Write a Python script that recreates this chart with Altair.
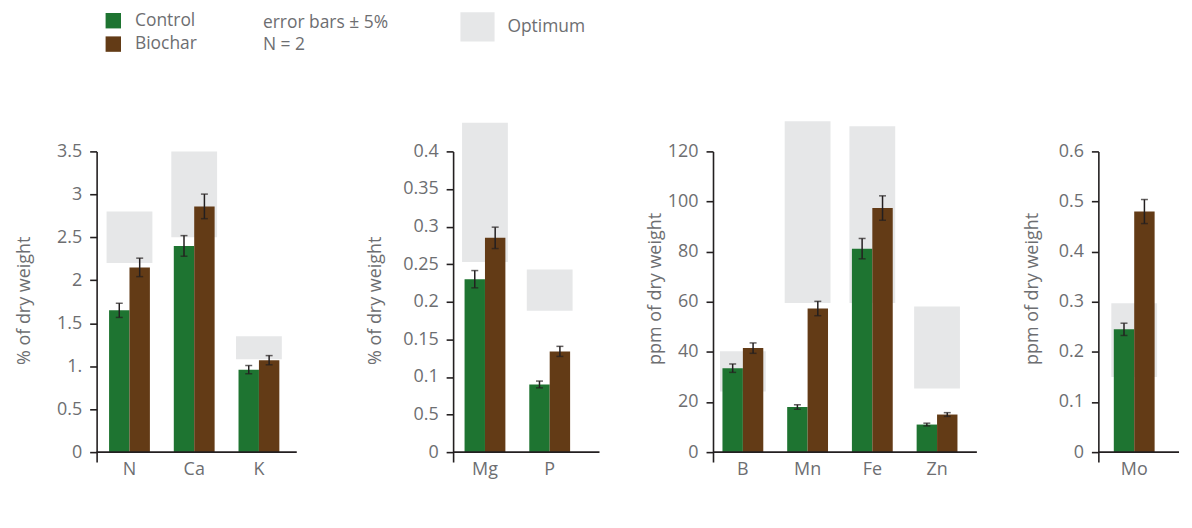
import json
import pandas as pd
import altair as alt

FONT = "Open Sans"
GREY = "#6d6e71"
DARK = "#231f20"
TREATMENTS = ["Control", "Biochar"]
TREAT_COLORS = ["#1e7431", "#633b16"]
OPT_NAME = "Optimum"
OPT_COLOR = "#e6e7e8"
ERR = 0.05
NOTES = ["error bars \u00b1 5%", "N = 2"]

# ---- panel 1: % of dry weight
p1_elements = ["N", "Ca", "K"]
p1_control = [1.65, 2.40, 0.96]
p1_biochar = [2.15, 2.86, 1.07]
p1_opt_low = [2.2, 2.5, 1.08]
p1_opt_high = [2.8, 3.5, 1.35]
p1_ticks = [0, 0.5, 1, 1.5, 2, 2.5, 3, 3.5]
p1_tick_labels = ["0", "0.5", "1.", "1.5", "2", "2.5", "3", "3.5"]

# ---- panel 2: % of dry weight
p2_elements = ["Mg", "P"]
p2_control = [0.23, 0.09]
p2_biochar = [0.285, 0.134]
p2_opt_low = [0.253, 0.188]
p2_opt_high = [0.438, 0.243]
p2_ticks = [0, 0.05, 0.1, 0.15, 0.2, 0.25, 0.3, 0.35, 0.4]
p2_tick_labels = ["0", "0.5", "0.1", "0.15", "0.2", "0.25", "0.3", "0.35", "0.4"]

# ---- panel 3: ppm of dry weight
p3_elements = ["B", "Mn", "Fe", "Zn"]
p3_control = [33.5, 18.0, 81.2, 11.0]
p3_biochar = [41.5, 57.3, 97.4, 15.0]
p3_opt_low = [24.2, 59.5, 59.5, 25.4]
p3_opt_high = [40.3, 132.0, 130.0, 58.1]
p3_ticks = [0, 20, 40, 60, 80, 100, 120]
p3_tick_labels = ["0", "20", "40", "60", "80", "100", "120"]

# ---- panel 4: ppm of dry weight
p4_elements = ["Mo"]
p4_control = [0.245]
p4_biochar = [0.48]
p4_opt_low = [0.15]
p4_opt_high = [0.297]
p4_ticks = [0, 0.1, 0.2, 0.3, 0.4, 0.5, 0.6]
p4_tick_labels = ["0", "0.1", "0.2", "0.3", "0.4", "0.5", "0.6"]

# ---- layout constants (pixels)
PLOT_H = 312
ZERO_GAP = 10          # y axis line runs this far below zero
STEP = 65
BAND = 41
SPACING = 114
FS = 18
TOP_PAD = 3

color_legend = alt.Legend(
    orient="none", legendX=8, legendY=-143 + TOP_PAD, title=None,
    symbolType="square", symbolSize=240, symbolStrokeWidth=0,
    labelFontSize=17.5, labelColor=GREY, labelFont=FONT,
    rowPadding=4.5, labelOffset=13, padding=0,
)
fill_legend = alt.Legend(
    orient="none", legendX=367.5, legendY=-143 + TOP_PAD, title=None,
    symbolType="M-1.17,-1H1.17V1H-1.17Z", symbolSize=858, symbolStrokeWidth=0,
    labelFontSize=17.5, labelColor=GREY, labelFont=FONT,
    labelOffset=15, padding=0,
)


def panel(elements, control, biochar, opt_low, opt_high, ticks, tick_labels,
          title, width, axis_len, first_center, title_x, notes=False):
    n = len(elements)
    top = ticks[-1]
    ymin = -top * ZERO_GAP / (PLOT_H - ZERO_GAP)
    pi = 1 - BAND / STEP
    po = (width / STEP - n + pi) / 2
    align = (first_center - BAND / 2) / (width - STEP * (n - pi))

    bars = pd.DataFrame({
        "element": elements * 2,
        "treatment": [TREATMENTS[0]] * n + [TREATMENTS[1]] * n,
        "value": list(control) + list(biochar),
    })
    opt = pd.DataFrame({
        "element": elements, "lo": opt_low, "hi": opt_high,
        "kind": [OPT_NAME] * n,
    })

    xenc = alt.X("element:N", sort=elements,
                 scale=alt.Scale(paddingInner=pi, paddingOuter=po, align=align),
                 axis=alt.Axis(title=None, domain=False, ticks=False, labelAngle=0,
                               labelPadding=8, offset=-ZERO_GAP,
                               labelFontSize=FS, labelColor=GREY, labelFont=FONT))
    yscale = alt.Scale(domain=[ymin, top], nice=False, zero=False)
    label_expr = f"{json.dumps(tick_labels)}[indexof({json.dumps(ticks)}, datum.value)]"
    yaxis = alt.Axis(values=ticks, labelExpr=label_expr, grid=False, labelOverlap=False,
                     tickSize=7, tickWidth=1.6, tickColor=DARK,
                     domainColor=DARK, domainWidth=1.6,
                     labelFontSize=FS, labelColor=GREY, labelFont=FONT, labelPadding=8,
                     title=title, titleFontSize=FS, titleFontWeight="normal",
                     titleColor=GREY, titleFont=FONT, titleX=title_x, titleY=214,
                     titleAlign="left", titleBaseline="bottom", titleAngle=270)

    def Y(field):
        return alt.Y(field, scale=yscale, axis=yaxis)

    xoff = alt.XOffset("treatment:N", sort=TREATMENTS,
                       scale=alt.Scale(paddingInner=0, paddingOuter=0))

    rects = alt.Chart(opt).mark_bar(width=46).encode(
        x=xenc,
        y=Y("lo:Q"),
        y2="hi:Q",
        fill=alt.Fill("kind:N", scale=alt.Scale(domain=[OPT_NAME], range=[OPT_COLOR]),
                      legend=fill_legend),
    )
    base = alt.Chart(bars).encode(x=xenc, xOffset=xoff)
    colbars = base.mark_bar().encode(
        y=Y("value:Q"),
        y2=alt.datum(0),
        color=alt.Color("treatment:N", scale=alt.Scale(domain=TREATMENTS, range=TREAT_COLORS),
                        legend=color_legend),
    )
    errs = base.transform_calculate(
        lo=f"datum.value*(1-{ERR})", hi=f"datum.value*(1+{ERR})")
    err_line = errs.mark_rule(color=DARK, strokeWidth=1.5).encode(y=Y("lo:Q"), y2="hi:Q")
    cap_lo = errs.mark_tick(color=DARK, thickness=1.5, size=7).encode(y=Y("lo:Q"))
    cap_hi = errs.mark_tick(color=DARK, thickness=1.5, size=7).encode(y=Y("hi:Q"))
    baseline = alt.Chart(pd.DataFrame({"z": [0]})).mark_rule(
        color=DARK, strokeWidth=1.6).encode(
        x=alt.value(0), x2=alt.value(axis_len), y=Y("z:Q"))

    layers = [rects, colbars, baseline, err_line, cap_lo, cap_hi]
    if notes:
        note = alt.Chart(pd.DataFrame({"note": ["\n".join(NOTES)]})).mark_text(
            align="left", baseline="alphabetic", fontSize=17.5, font=FONT, color=GREY,
            lineBreak="\n", lineHeight=22,
        ).encode(x=alt.value(167), y=alt.value(-127 + TOP_PAD), text="note:N")
        layers.append(note)
    return alt.layer(*layers).properties(width=width, height=PLOT_H)


c1 = panel(p1_elements, p1_control, p1_biochar, p1_opt_low, p1_opt_high, p1_ticks,
           p1_tick_labels, "% of dry weight", 244, 201, 33, -63, notes=True)
c2 = panel(p2_elements, p2_control, p2_biochar, p2_opt_low, p2_opt_high, p2_ticks,
           p2_tick_labels, "% of dry weight", 147, 147, 32, -69)
c3 = panel(p3_elements, p3_control, p3_biochar, p3_opt_low, p3_opt_high, p3_ticks,
           p3_tick_labels, "ppm of dry weight", 273, 265, 30, -49)
c4 = panel(p4_elements, p4_control, p4_biochar, p4_opt_low, p4_opt_high, p4_ticks,
           p4_tick_labels, "ppm of dry weight", 81, 81, 36, -57)

chart = alt.hconcat(c1, c2, c3, c4, spacing=SPACING, bounds="flush").properties(
    padding={"left": 8, "top": TOP_PAD, "right": 4, "bottom": 4},
).configure(font=FONT).configure_view(strokeWidth=0, stroke="transparent")

chart.save("out.html", embed_options={"renderer": "svg", "actions": False})
